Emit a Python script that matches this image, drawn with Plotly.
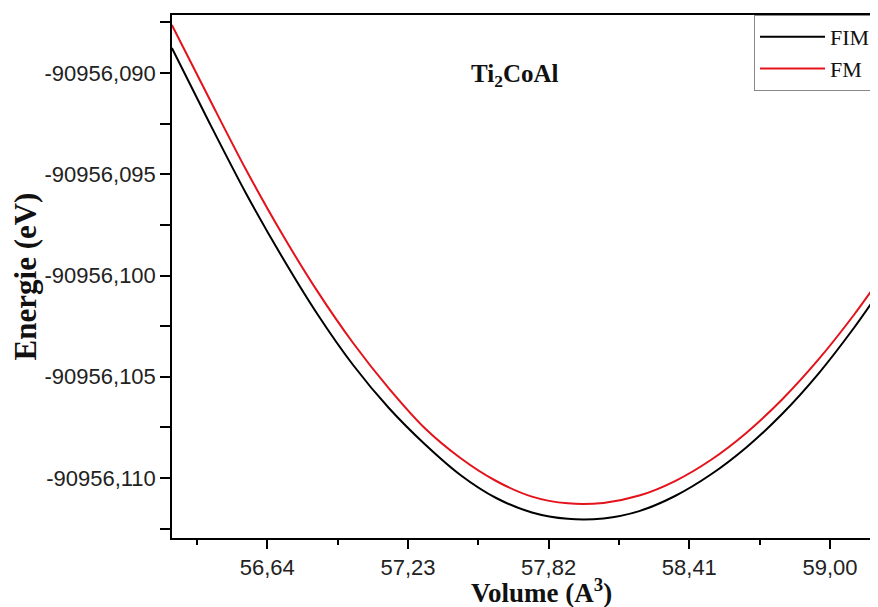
import plotly.graph_objects as go

# Volume (A^3)
volume = [56.24, 56.40, 56.55, 56.70, 56.85, 57.00, 57.15, 57.30, 57.45, 57.60, 57.75,
          57.90, 58.05, 58.20, 58.35, 58.50, 58.65, 58.80, 58.95, 59.10, 59.19]

# Energie (eV)
energy_fim = [-90956.088765, -90956.092519, -90956.095926, -90956.099037, -90956.101901,
              -90956.104420, -90956.106543, -90956.108321, -90956.109850, -90956.110988,
              -90956.111700, -90956.112015, -90956.111995, -90956.111634, -90956.110889,
              -90956.109829, -90956.108479, -90956.106829, -90956.104869, -90956.102593,
              -90956.101090]

energy_fm = [-90956.087630, -90956.091333, -90956.094753, -90956.097903, -90956.100773,
             -90956.103333, -90956.105573, -90956.107531, -90956.109012, -90956.110148,
             -90956.110920, -90956.111253, -90956.111229, -90956.110868, -90956.110150,
             -90956.109110, -90956.107760, -90956.106110, -90956.104170, -90956.101950,
             -90956.100484]

x_ticks = [56.64, 57.23, 57.82, 58.41, 59.00]
x_ticklabels = ["56,64", "57,23", "57,82", "58,41", "59,00"]
x_minor = [56.345, 56.935, 57.525, 58.115, 58.705]
y_ticks = [-90956.090, -90956.095, -90956.100, -90956.105, -90956.110]
y_ticklabels = ["-90956,090", "-90956,095", "-90956,100", "-90956,105", "-90956,110"]
y_minor = [-90956.0875, -90956.0925, -90956.0975, -90956.1025, -90956.1075, -90956.1125]

fig = go.Figure()
fig.add_trace(go.Scatter(x=volume, y=energy_fim, mode="lines", name="FIM",
                         line=dict(color="black", width=2, shape="spline", smoothing=0.8)))
fig.add_trace(go.Scatter(x=volume, y=energy_fm, mode="lines", name="FM",
                         line=dict(color="#e3121b", width=2, shape="spline", smoothing=0.8)))

tick_font = dict(family="Liberation Sans, Arial", size=22, color="#222")
serif = "Liberation Serif, Times New Roman"

# page body has an 8px margin, so the figure is sized to the remaining area
fig.update_layout(
    width=870, height=599,
    margin=dict(l=164, r=2, t=7, b=69, autoexpand=False),
    paper_bgcolor="white", plot_bgcolor="white",
    showlegend=True,
    legend=dict(x=1, y=1, xanchor="right", yanchor="top",
                bordercolor="#888", borderwidth=1, bgcolor="white",
                font=dict(family=serif, size=22, color="#111"),
                itemwidth=65, tracegroupgap=0),
    xaxis=dict(range=[56.2406, 59.1928], tickmode="array", tickvals=x_ticks,
               ticktext=x_ticklabels, automargin=False,
               ticks="outside", ticklen=9, tickwidth=1.5, tickcolor="black",
               minor=dict(tickvals=x_minor, ticks="outside", ticklen=5,
                          tickwidth=1.5, tickcolor="black"),
               showline=True, linecolor="black", linewidth=1.5, mirror=True,
               showgrid=False, zeroline=False, tickfont=tick_font),
    yaxis=dict(range=[-90956.112963, -90956.087136], tickmode="array", tickvals=y_ticks,
               ticktext=y_ticklabels, automargin=False,
               ticks="outside", ticklen=10, tickwidth=1.5, tickcolor="black",
               minor=dict(tickvals=y_minor, ticks="outside", ticklen=10,
                          tickwidth=1.5, tickcolor="black"),
               showline=True, linecolor="black", linewidth=1.5, mirror=True,
               showgrid=False, zeroline=False, tickfont=tick_font,
               title=dict(text="<b>Energie (eV)</b>",
                          font=dict(family=serif, size=31, color="#111"),
                          standoff=0)),
    annotations=[
        dict(text="<b>Ti<sub>2</sub>CoAl</b>", x=0.487, y=0.885,
             xref="paper", yref="paper", showarrow=False,
             xanchor="center", yanchor="middle",
             font=dict(family=serif, size=25, color="#111")),
        dict(text="<b>Volume (A<sup>3</sup>)</b>", x=0.525, y=-0.102,
             xref="paper", yref="paper", showarrow=False,
             xanchor="center", yanchor="middle",
             font=dict(family=serif, size=27, color="#111")),
    ],
)

fig.write_html("out.html")
